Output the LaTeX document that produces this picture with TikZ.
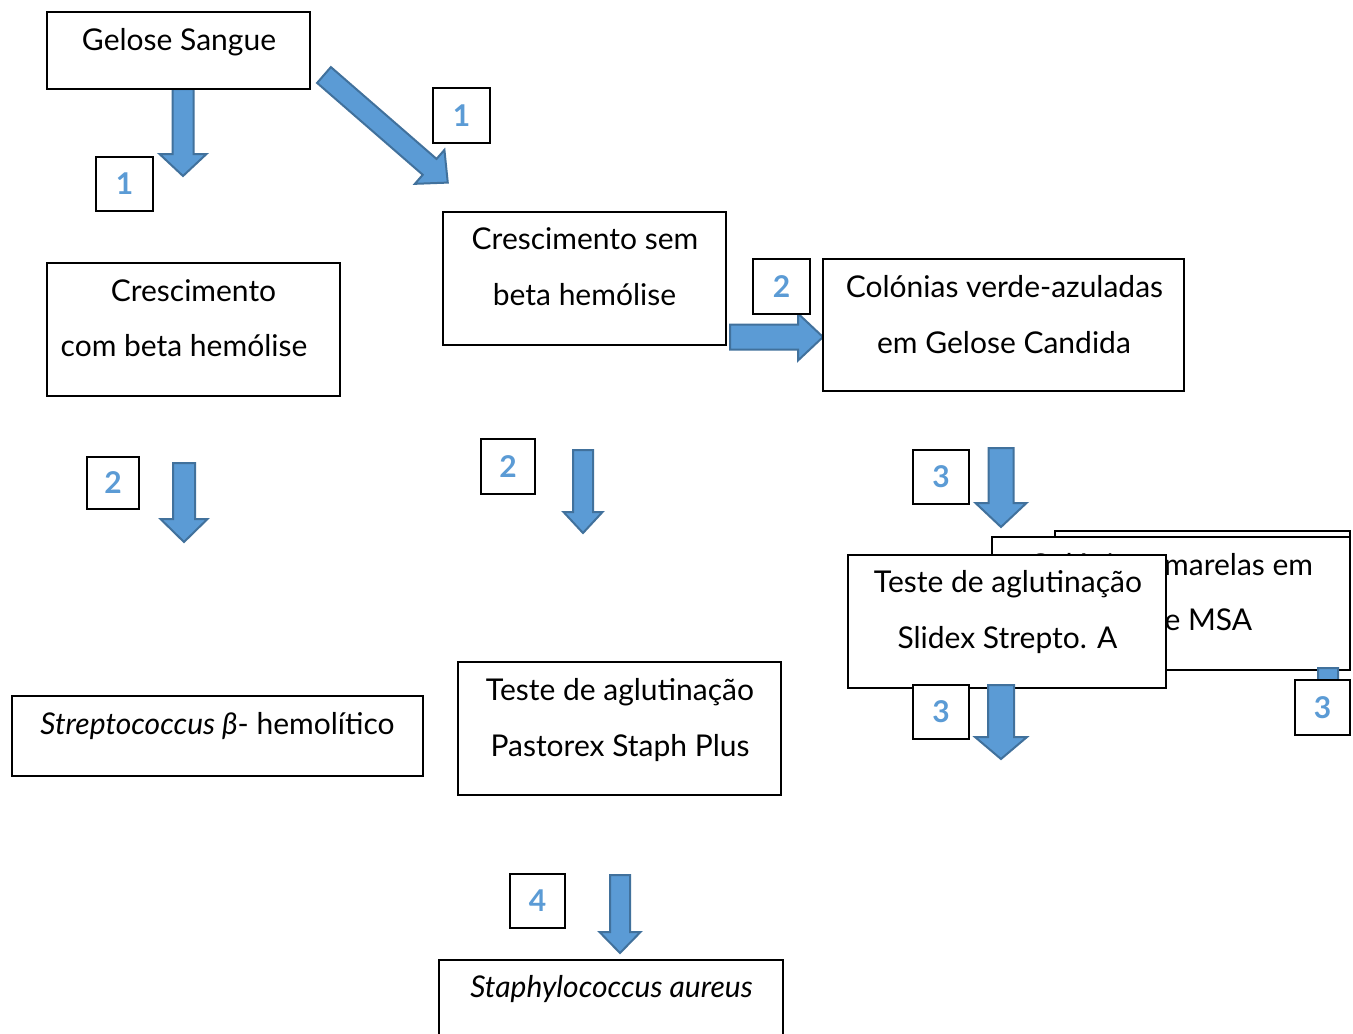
\documentclass[tikz,border=0pt]{standalone}
\usepackage{fontspec}
\setmainfont{Lato}
\definecolor{nblue}{HTML}{5B9BD5}
\definecolor{nedge}{HTML}{41719C}
\tikzset{
  box/.style={draw=black, line width=1.5pt, fill=white, rectangle, inner sep=0pt},
  txt/.style={anchor=base, inner sep=0pt, font=\fontsize{30}{36}\selectfont},
  num/.style={box, font=\bfseries\fontsize{30}{36}\selectfont, text=nblue},
  blk/.style={fill=nblue, draw=nedge, line width=2pt, line join=miter},
}
% x0, y0, angle, length, head length, shaft half width, head half width
\newcommand\blockarrow[7]{%
  \begin{scope}[shift={(#1,#2)}, rotate=#3]
    \draw[blk] (0,-#6) -- ({#4-#5},-#6) -- ({#4-#5},-#7) -- (#4,0) -- ({#4-#5},#7) -- ({#4-#5},#6) -- (0,#6) -- cycle;
  \end{scope}}
\begin{document}
\begin{tikzpicture}[x=1pt,y=-1pt]
\useasboundingbox (0,0) rectangle (1353,1034);
\fill[white] (0,0) rectangle (1353,1034);

% block arrows (background ones)
\blockarrow{183}{89}{-90}{87}{22}{10.5}{23.5}
\blockarrow{324}{75}{-41}{164}{24}{10.5}{22.5}
\blockarrow{730}{337}{0}{93}{25}{12.5}{23.5}
\blockarrow{184}{463}{-90}{79}{23}{11}{23.5}
\blockarrow{583}{450}{-90}{83}{21}{10}{19.5}
\blockarrow{1001}{448}{-90}{79}{24}{12.5}{25.5}
\blockarrow{620}{875}{-90}{78}{21}{10}{20.5}

% boxes
\node[box, minimum width=263pt, minimum height=77pt] (gs) at (178.5,50.5) {};
\node[txt] (gst) at (179,50) {Gelose Sangue};

\node[box, minimum width=293pt, minimum height=133pt] (cb) at (193.5,329.5) {};
\node[txt] (cb1) at (193.5,301) {Crescimento};
\node[txt] (cb2) at (184,356) {com beta hemólise};

\node[box, minimum width=283pt, minimum height=133pt] (cs) at (584.5,278.5) {};
\node[txt] (cs1) at (585,249) {Crescimento sem};
\node[txt] (cs2) at (584.5,305) {beta hemólise};

\node[box, minimum width=361pt, minimum height=132pt] (cv) at (1003.5,325) {};
\node[txt] (cv1) at (1004.5,297) {Colónias verde-azuladas};
\node[txt] (cv2) at (1004,353) {em Gelose Candida};

\node[box, minimum width=411pt, minimum height=80pt] (st) at (217.5,736) {};
\node[txt] (stt) at (217.5,734) {\itshape Streptococcus β\upshape- hemolítico};

\node[box, minimum width=323pt, minimum height=133pt] (pa) at (619.5,728.5) {};
\node[txt] (pa1) at (620,700) {Teste de aglutinação};
\node[txt] (pa2) at (620,756) {Pastorex Staph Plus};

\node[box, minimum width=344pt, minimum height=84pt] (sa) at (611,1002) {};
\node[txt] (sat) at (611.5,997) {\itshape Staphylococcus aureus};

% overlapping group on the right
\node[box, minimum width=295pt, minimum height=134pt] (bk) at (1202.5,598) {};
\node[box, minimum width=358pt, minimum height=133pt] (msa) at (1171,603.5) {};
\node[txt] (msa1) at (1171,575) {Colónias amarelas em};
\node[txt] (msa2) at (1171,630) {Gelose MSA};
\blockarrow{1328}{668}{-90}{62}{20}{10}{20}
\node[box, minimum width=318pt, minimum height=133pt] (sl) at (1007,621.5) {};
\node[txt] (sl1) at (1008,592) {Teste de aglutinação};
\node[txt] (sl2) at (1007.5,648) {Slidex Strepto. A};
\blockarrow{1001}{685}{-90}{74}{22}{13}{26}

% number squares
\node[num, minimum width=57pt, minimum height=54pt] (n1a) at (124.5,184) {1};
\node[num, minimum width=57pt, minimum height=55pt] (n1b) at (461.5,115.5) {1};
\node[num, minimum width=52pt, minimum height=52pt] (n2a) at (113,483) {2};
\node[num, minimum width=54pt, minimum height=55pt] (n2b) at (508,466.5) {2};
\node[num, minimum width=57pt, minimum height=55pt] (n2c) at (781.5,286.5) {2};
\node[num, minimum width=56pt, minimum height=54pt] (n3a) at (941,477) {3};
\node[num, minimum width=56pt, minimum height=54pt] (n3b) at (941,712) {3};
\node[num, minimum width=55pt, minimum height=55pt] (n3c) at (1322.5,707.5) {3};
\node[num, minimum width=55pt, minimum height=54pt] (n4) at (537.5,901) {4};
\end{tikzpicture}
\end{document}
